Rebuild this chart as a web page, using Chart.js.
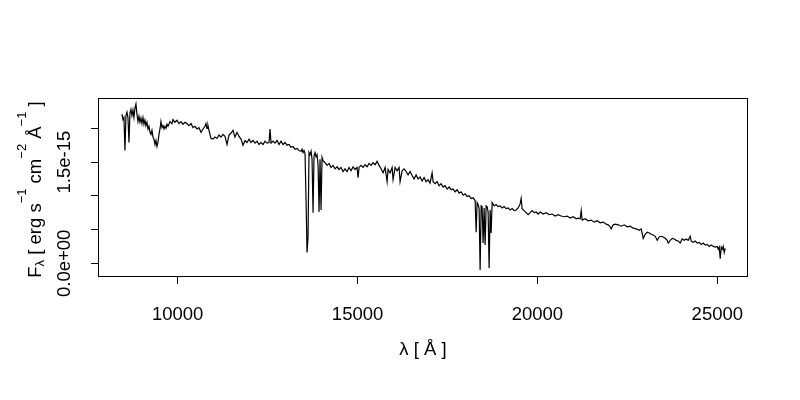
<!DOCTYPE html>
<html>
<head>
<meta charset="utf-8">
<script src="https://cdn.jsdelivr.net/npm/chart.js@4.4.1/dist/chart.umd.min.js"></script>
<style>
  body { margin: 0; background: #fff; }
  canvas { display: block; }
</style>
</head>
<body>
<canvas id="spectrum" width="800" height="400"></canvas>
<script>
// wavelength in Angstrom
var wavelength = [
  8451, 8479, 8506, 8534, 8562, 8590, 8618, 8646, 8673, 8701, 8729, 8757, 8785, 8812, 8840, 8868,
  8896, 8924, 8951, 8979, 9007, 9035, 9063, 9090, 9118, 9146, 9174, 9202, 9230, 9257, 9285, 9313,
  9341, 9369, 9396, 9424, 9452, 9480, 9508, 9535, 9563, 9591, 9619, 9647, 9674, 9702, 9730, 9786,
  9841, 9869, 9925, 9980, 10036, 10092, 10147, 10203, 10258, 10314, 10370, 10425, 10481, 10537, 10592, 10648,
  10703, 10759, 10787, 10815, 10842, 10870, 10926, 10982, 11037, 11093, 11148, 11204, 11260, 11315, 11371, 11426,
  11482, 11538, 11593, 11649, 11705, 11760, 11816, 11871, 11927, 11983, 12038, 12094, 12150, 12205, 12261, 12316,
  12372, 12428, 12483, 12539, 12567, 12595, 12650, 12706, 12761, 12817, 12873, 12928, 12984, 13040, 13095, 13151,
  13206, 13262, 13318, 13373, 13429, 13457, 13484, 13512, 13540, 13568, 13596, 13623, 13651, 13679, 13707, 13735,
  13763, 13790, 13818, 13846, 13874, 13902, 13929, 13957, 13985, 14013, 14041, 14096, 14152, 14208, 14263, 14319,
  14374, 14430, 14486, 14541, 14597, 14652, 14708, 14764, 14819, 14875, 14931, 14986, 15014, 15042, 15097, 15153,
  15209, 15264, 15320, 15376, 15431, 15487, 15542, 15598, 15654, 15709, 15765, 15821, 15848, 15904, 15960, 15987,
  16043, 16099, 16154, 16182, 16238, 16293, 16349, 16405, 16460, 16516, 16571, 16627, 16683, 16738, 16794, 16849,
  16905, 16961, 17016, 17072, 17100, 17155, 17211, 17267, 17322, 17378, 17433, 17489, 17545, 17600, 17656, 17712,
  17767, 17823, 17878, 17934, 17990, 18045, 18101, 18157, 18212, 18268, 18296, 18323, 18351, 18379, 18407, 18435,
  18462, 18490, 18518, 18546, 18574, 18601, 18629, 18657, 18685, 18713, 18741, 18796, 18852, 18907, 18963, 19019,
  19074, 19130, 19185, 19241, 19297, 19352, 19408, 19464, 19519, 19547, 19575, 19630, 19686, 19742, 19797, 19853,
  19909, 19964, 20020, 20075, 20159, 20242, 20326, 20409, 20493, 20576, 20659, 20743, 20826, 20910, 20993, 21077,
  21132, 21188, 21216, 21243, 21327, 21410, 21494, 21577, 21661, 21744, 21827, 21911, 21967, 22022, 22050, 22106,
  22161, 22245, 22328, 22411, 22495, 22578, 22662, 22745, 22829, 22884, 22940, 22996, 23051, 23107, 23162, 23218,
  23274, 23329, 23385, 23440, 23496, 23552, 23607, 23635, 23691, 23746, 23802, 23858, 23913, 23969, 24024, 24080,
  24136, 24191, 24247, 24275, 24330, 24386, 24442, 24497, 24553, 24608, 24664, 24720, 24775, 24831, 24887, 24942,
  24998, 25026, 25053, 25081, 25109, 25137, 25165, 25192, 25220
];

// flux in units of 1e-15 erg s^-1 cm^-2 A^-1
var flux = [
  2.21, 2.13, 2.16, 1.67, 2.19, 2.24, 2.16, 1.79, 2.22, 2.28, 2.19, 2.27, 2.16, 2.30, 2.36, 2.21,
  2.10, 2.18, 2.09, 2.15, 2.07, 2.16, 2.06, 2.12, 2.04, 2.09, 1.99, 2.03, 1.94, 1.91, 1.97, 1.87,
  1.84, 1.76, 1.82, 1.73, 1.79, 1.91, 1.99, 2.10, 2.01, 2.04, 1.99, 2.03, 2.00, 2.06, 2.03, 2.10,
  2.07, 2.13, 2.09, 2.12, 2.07, 2.10, 2.06, 2.09, 2.07, 2.04, 2.07, 2.01, 2.03, 1.99, 2.01, 1.94,
  1.99, 2.03, 2.07, 2.00, 2.04, 1.97, 1.85, 1.84, 1.87, 1.85, 1.90, 1.87, 1.91, 1.88, 1.76, 1.90,
  1.93, 1.97, 1.87, 1.94, 1.88, 1.84, 1.75, 1.82, 1.79, 1.84, 1.79, 1.82, 1.78, 1.81, 1.76, 1.79,
  1.76, 1.81, 1.78, 1.79, 1.99, 1.78, 1.81, 1.78, 1.82, 1.76, 1.81, 1.76, 1.79, 1.75, 1.76, 1.72,
  1.73, 1.69, 1.70, 1.67, 1.66, 1.69, 1.64, 1.67, 1.63, 0.94, 0.16, 0.39, 1.64, 1.61, 1.66, 1.54,
  0.75, 1.59, 1.64, 1.58, 1.61, 1.46, 0.76, 1.54, 0.79, 1.57, 1.52, 1.49, 1.45, 1.48, 1.42, 1.45,
  1.40, 1.43, 1.39, 1.42, 1.36, 1.40, 1.36, 1.42, 1.37, 1.43, 1.39, 1.42, 1.27, 1.42, 1.45, 1.42,
  1.46, 1.43, 1.48, 1.45, 1.49, 1.46, 1.51, 1.45, 1.40, 1.34, 1.42, 1.21, 1.39, 1.34, 1.42, 1.24,
  1.42, 1.37, 1.42, 1.21, 1.37, 1.40, 1.36, 1.31, 1.36, 1.30, 1.25, 1.31, 1.25, 1.28, 1.22, 1.27,
  1.21, 1.24, 1.19, 1.34, 1.21, 1.18, 1.21, 1.15, 1.18, 1.13, 1.15, 1.10, 1.13, 1.09, 1.10, 1.06,
  1.09, 1.04, 1.06, 1.01, 1.03, 0.99, 1.00, 0.96, 0.97, 0.93, 0.46, 0.90, 0.87, 0.81, -0.10, 0.85,
  0.84, 0.30, 0.82, 0.27, 0.85, 0.84, 0.76, -0.07, 0.79, 0.45, 0.90, 0.85, 0.87, 0.84, 0.85, 0.82,
  0.84, 0.81, 0.82, 0.79, 0.81, 0.78, 0.79, 0.82, 0.88, 0.96, 0.81, 0.78, 0.75, 0.72, 0.75, 0.78,
  0.75, 0.76, 0.73, 0.76, 0.73, 0.75, 0.72, 0.73, 0.70, 0.72, 0.70, 0.69, 0.70, 0.67, 0.69, 0.66,
  0.67, 0.66, 0.78, 0.64, 0.66, 0.63, 0.64, 0.61, 0.63, 0.60, 0.61, 0.58, 0.57, 0.54, 0.51, 0.57,
  0.58, 0.57, 0.55, 0.57, 0.54, 0.55, 0.52, 0.51, 0.49, 0.51, 0.37, 0.43, 0.46, 0.45, 0.43, 0.42,
  0.40, 0.34, 0.39, 0.40, 0.39, 0.37, 0.34, 0.30, 0.34, 0.37, 0.36, 0.34, 0.33, 0.30, 0.36, 0.34,
  0.36, 0.34, 0.40, 0.33, 0.31, 0.33, 0.30, 0.31, 0.28, 0.30, 0.27, 0.28, 0.25, 0.27, 0.25, 0.24,
  0.25, 0.21, 0.24, 0.07, 0.24, 0.21, 0.25, 0.16, 0.22
];

var xTicks = [10000, 15000, 20000, 25000];
var yTicks = [0, 0.5, 1.0, 1.5, 2.0];
var yLabelValues = [0, 1.5];
var yLabelText = ['0.0e+00', '1.5e-15'];

var FONT = '"Liberation Sans", Arial, Helvetica, sans-serif';

// box, tick labels and axis titles the way R's plot() lays them out
var rDecor = {
  id: 'rDecor',
  afterDraw: function(chart) {
    var ctx = chart.ctx;
    var a = chart.chartArea;
    var xs = chart.scales.x;
    var ys = chart.scales.y;
    ctx.save();
    ctx.strokeStyle = '#000';
    ctx.lineWidth = 1;
    ctx.strokeRect(Math.round(a.left) + 0.5, Math.round(a.top) + 0.5,
      Math.round(a.right - a.left) - 1, Math.round(a.bottom - a.top) - 1);

    ctx.fillStyle = '#000';
    ctx.font = '18.5px ' + FONT;
    ctx.textAlign = 'center';
    ctx.textBaseline = 'alphabetic';
    xTicks.forEach(function(v) {
      ctx.fillText(String(v), xs.getPixelForValue(v), 320);
    });
    for (var i = 0; i < yLabelValues.length; i++) {
      ctx.save();
      ctx.translate(69.5, ys.getPixelForValue(yLabelValues[i]));
      ctx.rotate(-Math.PI / 2);
      ctx.fillText(yLabelText[i], 0, 0);
      ctx.restore();
    }

    ctx.fillText('\u03bb [ \u00c5 ]', (a.left + a.right) / 2, 355);

    // y title: F_lambda [ erg s^-1 cm^-2 A^-1 ]
    var parts = [
      ['F', 18.5, 0], ['\u03bb', 13, 3], [' [ erg s', 18.5, 0], ['\u22121', 13, -15],
      [' cm', 18.5, 0], ['\u22122', 13, -15], [' \u00c5', 18.5, 0], ['\u22121', 13, -15],
      [' ]', 18.5, 0]
    ];
    var total = 0;
    parts.forEach(function(p) {
      ctx.font = p[1] + 'px ' + FONT;
      p.push(ctx.measureText(p[0]).width);
      total += p[3];
    });
    ctx.save();
    ctx.translate(41, (a.top + a.bottom) / 2 + 2);
    ctx.rotate(-Math.PI / 2);
    ctx.textAlign = 'left';
    var pos = -total / 2;
    parts.forEach(function(p) {
      ctx.font = p[1] + 'px ' + FONT;
      ctx.fillText(p[0], pos, p[2]);
      pos += p[3];
    });
    ctx.restore();
    ctx.restore();
  }
};

var points = wavelength.map(function(w, i) {
  return { x: w, y: flux[i] };
});

new Chart(document.getElementById('spectrum'), {
  type: 'line',
  data: {
    datasets: [{
      data: points,
      borderColor: '#000',
      borderWidth: 1.2,
      pointRadius: 0,
      fill: false,
      tension: 0
    }]
  },
  options: {
    responsive: false,
    animation: false,
    devicePixelRatio: 1,
    layout: { padding: { left: 98, right: 52, top: 98, bottom: 123 } },
    plugins: { legend: { display: false }, tooltip: { enabled: false } },
    scales: {
      x: {
        type: 'linear',
        min: 7785,
        max: 25853,
        afterFit: function(s) { s.height = 0; },
        afterBuildTicks: function(s) {
          s.ticks = xTicks.map(function(v) { return { value: v }; });
        },
        ticks: { display: false },
        grid: { drawOnChartArea: false, drawTicks: true, tickLength: 7, color: '#000', lineWidth: 1 },
        border: { display: false }
      },
      y: {
        type: 'linear',
        min: -0.203,
        max: 2.449,
        afterFit: function(s) { s.width = 0; },
        afterBuildTicks: function(s) {
          s.ticks = yTicks.map(function(v) { return { value: v }; });
        },
        ticks: { display: false },
        grid: { drawOnChartArea: false, drawTicks: true, tickLength: 7, color: '#000', lineWidth: 1 },
        border: { display: false }
      }
    }
  },
  plugins: [rDecor]
});
</script>
</body>
</html>
